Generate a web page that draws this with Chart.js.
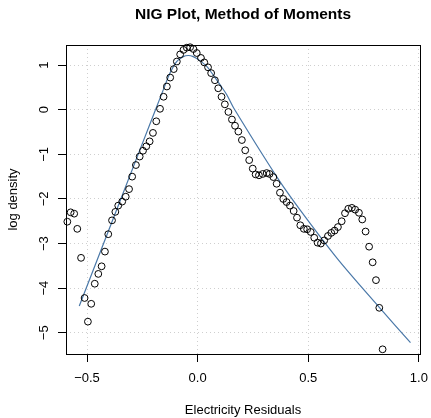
<!DOCTYPE html>
<html>
<head>
<meta charset="utf-8">
<title>NIG Plot, Method of Moments</title>
<script src="https://cdn.jsdelivr.net/npm/chart.js"></script>
<style>
  body { margin: 0; background: #ffffff; }
  #nigChart { display: block; }
</style>
</head>
<body>
<canvas id="nigChart" width="431" height="418"></canvas>
<script>
// tick labels
var xTickValues = [-0.5, 0.0, 0.5, 1.0];
var yTickValues = [-5, -4, -3, -2, -1, 0, 1];

// empirical log density of the residuals (circles)
var residX = [-0.589, -0.574, -0.558, -0.544, -0.527, -0.511, -0.496, -0.481, -0.465, -0.449,
    -0.434, -0.419, -0.404, -0.387, -0.372, -0.359, -0.341, -0.325, -0.310, -0.296,
    -0.279, -0.262, -0.247, -0.232, -0.217, -0.202, -0.187, -0.170, -0.154, -0.139,
    -0.124, -0.108, -0.094, -0.079, -0.064, -0.049, -0.034, -0.019, -0.004, 0.015,
    0.030, 0.047, 0.061, 0.078, 0.093, 0.108, 0.123, 0.139, 0.155, 0.169,
    0.184, 0.200, 0.215, 0.233, 0.249, 0.262, 0.277, 0.294, 0.312, 0.325,
    0.342, 0.357, 0.372, 0.387, 0.402, 0.417, 0.434, 0.449, 0.464, 0.480,
    0.495, 0.511, 0.527, 0.542, 0.557, 0.572, 0.589, 0.604, 0.619, 0.634,
    0.651, 0.666, 0.681, 0.697, 0.712, 0.729, 0.744, 0.759, 0.775, 0.791,
    0.806, 0.821, 0.836];
var residLogDens = [-2.51, -2.30, -2.33, -2.67, -3.32, -4.22, -4.75, -4.35, -3.90, -3.68,
    -3.51, -3.18, -2.79, -2.48, -2.29, -2.15, -2.06, -1.95, -1.78, -1.50,
    -1.24, -1.05, -0.92, -0.82, -0.71, -0.52, -0.26, 0.02, 0.29, 0.52,
    0.72, 0.91, 1.08, 1.24, 1.34, 1.39, 1.40, 1.36, 1.27, 1.16,
    1.06, 0.95, 0.82, 0.66, 0.48, 0.29, 0.12, -0.05, -0.22, -0.36,
    -0.49, -0.68, -0.91, -1.13, -1.32, -1.45, -1.47, -1.44, -1.42, -1.44,
    -1.51, -1.66, -1.86, -2.00, -2.07, -2.15, -2.27, -2.42, -2.59, -2.67,
    -2.68, -2.74, -2.87, -2.98, -3.00, -2.93, -2.83, -2.76, -2.71, -2.63,
    -2.50, -2.32, -2.22, -2.20, -2.24, -2.31, -2.46, -2.73, -3.07, -3.42,
    -3.82, -4.44, -5.37];

// fitted NIG log density (line)
var fitX = [-0.535, -0.261, -0.155, -0.125, -0.095, -0.065, -0.042, -0.020, 0.010, 0.041,
    0.070, 0.101, 0.131, 0.165, 0.357, 0.462, 0.635, 0.821, 0.962];
var fitLogDens = [-4.40, -0.90, 0.45, 0.82, 1.08, 1.19, 1.215, 1.19, 1.10, 0.97,
    0.78, 0.56, 0.34, 0.02, -1.50, -2.24, -3.36, -4.43, -5.22];

var FONT = "'Liberation Sans', Arial, Helvetica, sans-serif";
var CURVE_COLOR = "#4A78A8";

function toPoints(xs, ys) {
    return xs.map(function (x, i) { return { x: x, y: ys[i] }; });
}

function fmtTick(v) {
    // R prints a real minus sign
    return String(v).replace("-", "\u2212");
}

// title, rotated y labels and the plot box, placed as R does
var rDecorations = {
    id: "rDecorations",
    afterDraw: function (chart) {
        var ctx = chart.ctx;
        var area = chart.chartArea;
        var yScale = chart.scales.y;

        ctx.save();
        ctx.fillStyle = "#000000";

        // main title
        ctx.font = "bold 15.5px " + FONT;
        ctx.textAlign = "center";
        ctx.textBaseline = "alphabetic";
        ctx.fillText("NIG Plot, Method of Moments", (area.left + area.right) / 2, 19);

        // y tick labels, vertical
        ctx.font = "13px " + FONT;
        yTickValues.forEach(function (v) {
            var py = yScale.getPixelForValue(v);
            ctx.save();
            ctx.translate(47.5, py);
            ctx.rotate(-Math.PI / 2);
            ctx.fillText(fmtTick(v), 0, 0);
            ctx.restore();
        });

        // y axis title
        ctx.save();
        ctx.translate(16.5, (area.top + area.bottom) / 2);
        ctx.rotate(-Math.PI / 2);
        ctx.fillText("log density", 0, 0);
        ctx.restore();

        // box around the plot
        ctx.strokeStyle = "#000000";
        ctx.lineWidth = 1;
        ctx.strokeRect(Math.round(area.left) + 0.5, Math.round(area.top) + 0.5,
            Math.round(area.right - area.left), Math.round(area.bottom - area.top));
        ctx.restore();
    }
};

new Chart(document.getElementById("nigChart"), {
    type: "scatter",
    data: {
        datasets: [{
            label: "Electricity Residuals",
            data: toPoints(residX, residLogDens),
            showLine: false,
            pointStyle: "circle",
            pointRadius: 3.4,
            pointHoverRadius: 3.4,
            pointBorderWidth: 1,
            borderColor: "#000000",
            backgroundColor: "rgba(0,0,0,0)",
            clip: false,
            order: 1
        }, {
            label: "NIG fit",
            data: toPoints(fitX, fitLogDens),
            showLine: true,
            borderColor: CURVE_COLOR,
            borderWidth: 1.2,
            pointRadius: 0,
            tension: 0.3,
            fill: false,
            order: 2
        }]
    },
    options: {
        responsive: false,
        animation: false,
        events: [],
        layout: { padding: { top: 45, right: 11, bottom: 0, left: 0 } },
        plugins: {
            legend: { display: false },
            title: { display: false },
            tooltip: { enabled: false }
        },
        scales: {
            x: {
                type: "linear",
                min: -0.595,
                max: 1.005,
                afterBuildTicks: function (scale) {
                    scale.ticks = xTickValues.map(function (v) { return { value: v }; });
                },
                afterFit: function (scale) {
                    scale.height = 64;
                    scale.paddingLeft = 0;
                    scale.paddingRight = 0;
                },
                border: { display: false, dash: [1, 3] },
                grid: {
                    color: "#cfcfcf",
                    lineWidth: 1,
                    drawTicks: true,
                    tickLength: 8,
                    tickColor: "#000000",
                    tickWidth: 1,
                    tickBorderDash: []
                },
                ticks: {
                    color: "#000000",
                    font: { family: FONT, size: 13 },
                    padding: 9,
                    maxRotation: 0,
                    callback: function (v) { return fmtTick(v.toFixed(1)); }
                },
                title: {
                    display: true,
                    text: "Electricity Residuals",
                    color: "#000000",
                    font: { family: FONT, size: 13 },
                    padding: { top: 0, bottom: 0 }
                }
            },
            y: {
                type: "linear",
                min: -5.475,
                max: 1.45,
                afterBuildTicks: function (scale) {
                    scale.ticks = yTickValues.map(function (v) { return { value: v }; });
                },
                afterFit: function (scale) {
                    scale.width = 66;
                    scale.paddingTop = 0;
                    scale.paddingBottom = 0;
                },
                border: { display: false, dash: [1, 3] },
                grid: {
                    color: "#cfcfcf",
                    lineWidth: 1,
                    drawTicks: true,
                    tickLength: 8,
                    tickColor: "#000000",
                    tickWidth: 1,
                    tickBorderDash: []
                },
                ticks: { display: false }
            }
        }
    },
    plugins: [rDecorations]
});
</script>
</body>
</html>
